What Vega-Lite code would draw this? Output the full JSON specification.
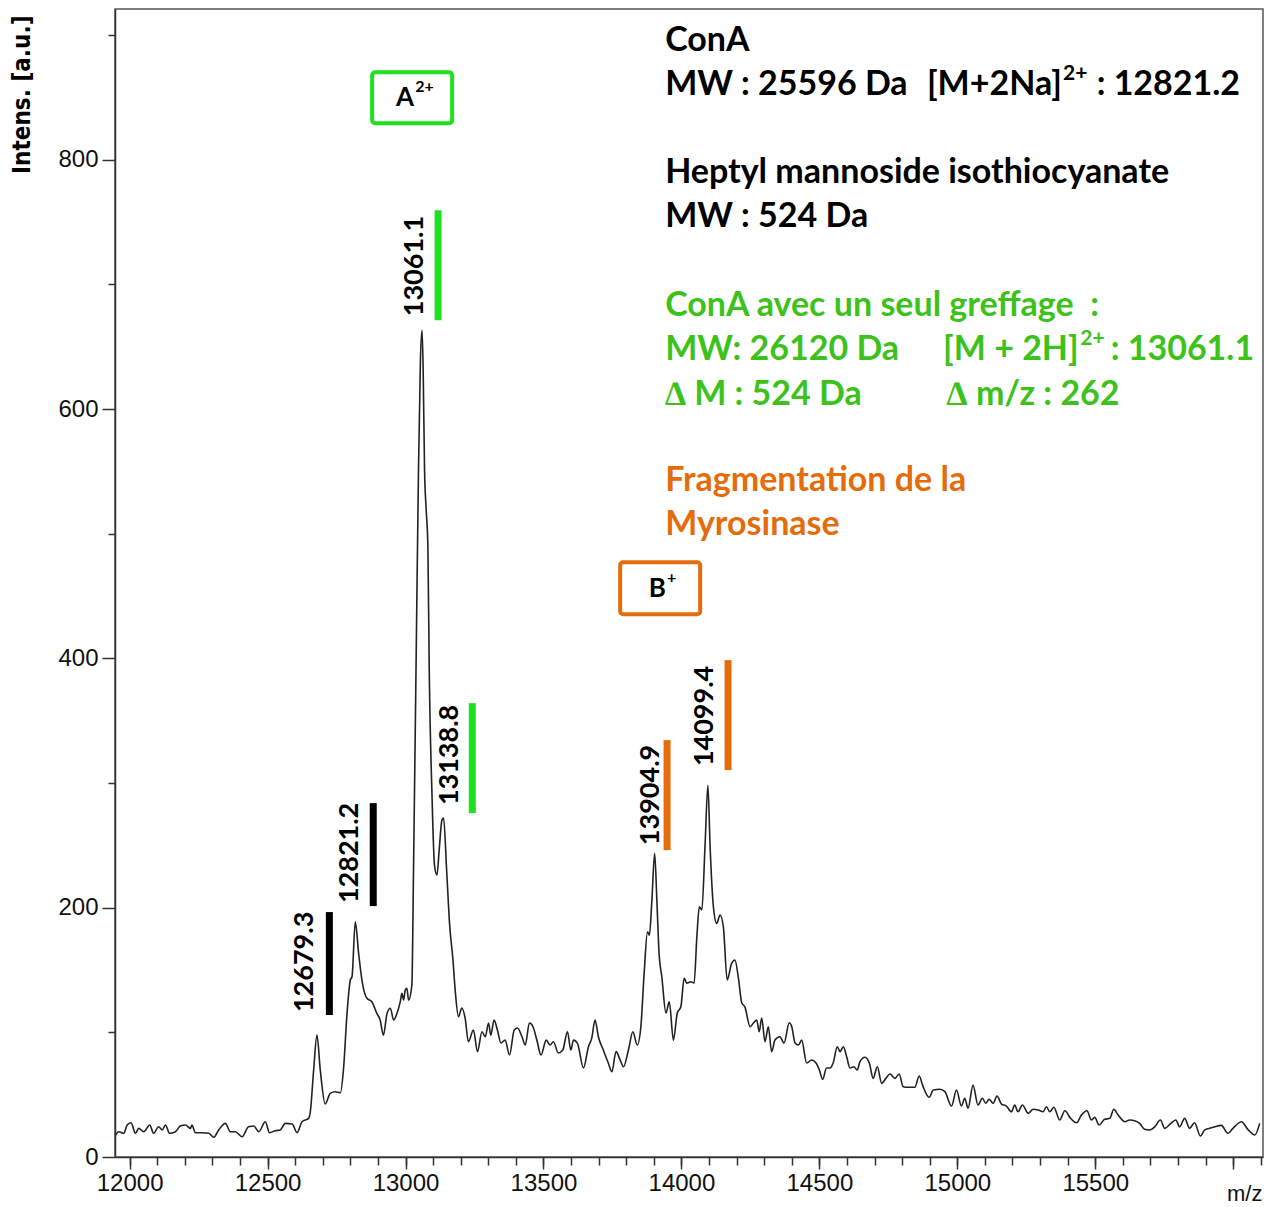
{
"$schema":"https://vega.github.io/schema/vega-lite/v6.json",
"width":1148,"height":1148,
"autosize":{"type":"none"},
"padding":{"left":115,"top":9,"right":6,"bottom":50},
"background":"white",
"config":{"view":{"stroke":"#555","strokeWidth":1.5},"axis":{"grid":false}},
"datasets":{
"spec":[
{"mz":11949,"I":17.6},{"mz":11960,"I":20.3},{"mz":11979,"I":19.0},{"mz":11991,"I":25.7},{"mz":12005,"I":27.5},{"mz":12021,"I":19.0},{"mz":12033,"I":23.0},{"mz":12051,"I":20.3},{"mz":12073,"I":25.7},{"mz":12087,"I":19.0},{"mz":12105,"I":24.3},{"mz":12118,"I":21.7},{"mz":12130,"I":25.7},{"mz":12145,"I":19.0},{"mz":12166,"I":20.3},{"mz":12184,"I":24.9},{"mz":12202,"I":25.7},{"mz":12220,"I":23.0},{"mz":12226,"I":25.7},{"mz":12238,"I":19.5},{"mz":12263,"I":19.5},{"mz":12287,"I":19.0},{"mz":12305,"I":15.8},{"mz":12323,"I":21.7},{"mz":12347,"I":27.0},{"mz":12365,"I":20.3},{"mz":12383,"I":20.3},{"mz":12408,"I":16.3},{"mz":12431,"I":24.3},{"mz":12450,"I":24.9},{"mz":12468,"I":20.3},{"mz":12492,"I":28.3},{"mz":12507,"I":19.5},{"mz":12528,"I":21.1},{"mz":12546,"I":21.7},{"mz":12564,"I":27.0},{"mz":12589,"I":26.5},{"mz":12607,"I":19.5},{"mz":12625,"I":28.3},{"mz":12649,"I":31.0},{"mz":12655,"I":36.3},{"mz":12667,"I":69.8},{"mz":12679,"I":97.8},{"mz":12691,"I":69.8},{"mz":12709,"I":42.5},{"mz":12727,"I":51.1},{"mz":12745,"I":52.4},{"mz":12764,"I":51.6},{"mz":12775,"I":69.8},{"mz":12788,"I":115.2},{"mz":12800,"I":142.0},{"mz":12806,"I":144.6},{"mz":12818,"I":188.7},{"mz":12830,"I":163.4},{"mz":12842,"I":142.0},{"mz":12860,"I":127.3},{"mz":12878,"I":124.6},{"mz":12896,"I":115.2},{"mz":12908,"I":109.9},{"mz":12920,"I":97.8},{"mz":12933,"I":115.2},{"mz":12945,"I":119.3},{"mz":12957,"I":109.9},{"mz":12969,"I":115.2},{"mz":12981,"I":124.6},{"mz":12987,"I":131.3},{"mz":12993,"I":125.9},{"mz":12999,"I":133.9},{"mz":13005,"I":135.3},{"mz":13011,"I":125.9},{"mz":13023,"I":137.9},{"mz":13029,"I":230.2},{"mz":13038,"I":390.6},{"mz":13047,"I":551.0},{"mz":13054,"I":639.2},{"mz":13060,"I":663.3},{"mz":13064,"I":631.2},{"mz":13069,"I":551.0},{"mz":13075,"I":518.9},{"mz":13081,"I":490.8},{"mz":13086,"I":390.6},{"mz":13096,"I":290.3},{"mz":13105,"I":234.2},{"mz":13114,"I":226.2},{"mz":13122,"I":246.2},{"mz":13132,"I":270.3},{"mz":13138,"I":271.9},{"mz":13149,"I":230.2},{"mz":13160,"I":186.1},{"mz":13172,"I":158.0},{"mz":13180,"I":133.9},{"mz":13192,"I":112.5},{"mz":13204,"I":119.5},{"mz":13216,"I":111.5},{"mz":13228,"I":92.5},{"mz":13246,"I":101.9},{"mz":13261,"I":84.5},{"mz":13277,"I":100.5},{"mz":13289,"I":96.5},{"mz":13301,"I":107.5},{"mz":13309,"I":97.8},{"mz":13321,"I":109.9},{"mz":13333,"I":101.9},{"mz":13346,"I":91.4},{"mz":13361,"I":93.8},{"mz":13377,"I":81.8},{"mz":13394,"I":101.9},{"mz":13406,"I":103.5},{"mz":13422,"I":96.5},{"mz":13434,"I":89.8},{"mz":13449,"I":107.5},{"mz":13462,"I":104.5},{"mz":13476,"I":93.8},{"mz":13491,"I":81.8},{"mz":13510,"I":93.8},{"mz":13524,"I":89.8},{"mz":13536,"I":92.5},{"mz":13554,"I":83.4},{"mz":13570,"I":85.8},{"mz":13587,"I":100.5},{"mz":13599,"I":85.8},{"mz":13609,"I":93.8},{"mz":13623,"I":91.4},{"mz":13645,"I":71.4},{"mz":13663,"I":88.5},{"mz":13675,"I":95.4},{"mz":13687,"I":109.9},{"mz":13699,"I":96.5},{"mz":13717,"I":85.8},{"mz":13735,"I":75.4},{"mz":13748,"I":68.4},{"mz":13763,"I":84.5},{"mz":13778,"I":77.8},{"mz":13790,"I":72.4},{"mz":13808,"I":85.8},{"mz":13824,"I":100.5},{"mz":13840,"I":89.8},{"mz":13853,"I":104.5},{"mz":13865,"I":147.6},{"mz":13877,"I":180.7},{"mz":13884,"I":178.0},{"mz":13893,"I":206.1},{"mz":13903,"I":243.6},{"mz":13911,"I":206.1},{"mz":13919,"I":163.6},{"mz":13929,"I":144.6},{"mz":13944,"I":115.5},{"mz":13956,"I":124.6},{"mz":13971,"I":93.8},{"mz":13985,"I":115.5},{"mz":13998,"I":120.5},{"mz":14010,"I":143.6},{"mz":14019,"I":139.5},{"mz":14034,"I":140.6},{"mz":14046,"I":139.5},{"mz":14056,"I":176.7},{"mz":14065,"I":200.7},{"mz":14074,"I":198.1},{"mz":14086,"I":251.8},{"mz":14096,"I":298.3},{"mz":14104,"I":248.9},{"mz":14116,"I":200.7},{"mz":14128,"I":187.4},{"mz":14140,"I":194.1},{"mz":14152,"I":184.7},{"mz":14166,"I":142.0},{"mz":14182,"I":155.3},{"mz":14194,"I":158.0},{"mz":14206,"I":144.6},{"mz":14219,"I":123.5},{"mz":14230,"I":120.5},{"mz":14249,"I":104.5},{"mz":14261,"I":107.5},{"mz":14273,"I":109.9},{"mz":14282,"I":100.5},{"mz":14291,"I":111.5},{"mz":14303,"I":92.5},{"mz":14315,"I":104.5},{"mz":14327,"I":84.5},{"mz":14339,"I":93.8},{"mz":14357,"I":96.5},{"mz":14372,"I":91.4},{"mz":14391,"I":107.7},{"mz":14400,"I":104.5},{"mz":14412,"I":91.4},{"mz":14424,"I":89.8},{"mz":14436,"I":93.8},{"mz":14454,"I":75.4},{"mz":14472,"I":77.8},{"mz":14488,"I":75.4},{"mz":14500,"I":69.8},{"mz":14512,"I":62.3},{"mz":14526,"I":71.4},{"mz":14538,"I":71.4},{"mz":14550,"I":75.4},{"mz":14565,"I":88.5},{"mz":14575,"I":84.5},{"mz":14587,"I":88.5},{"mz":14599,"I":80.4},{"mz":14611,"I":71.4},{"mz":14625,"I":72.4},{"mz":14637,"I":69.8},{"mz":14647,"I":76.4},{"mz":14665,"I":80.0},{"mz":14681,"I":75.4},{"mz":14695,"I":63.1},{"mz":14710,"I":72.4},{"mz":14726,"I":59.1},{"mz":14741,"I":63.1},{"mz":14756,"I":66.6},{"mz":14774,"I":63.1},{"mz":14789,"I":66.6},{"mz":14804,"I":56.4},{"mz":14822,"I":55.9},{"mz":14846,"I":55.9},{"mz":14862,"I":65.0},{"mz":14874,"I":57.7},{"mz":14898,"I":47.9},{"mz":14913,"I":53.7},{"mz":14937,"I":54.3},{"mz":14955,"I":52.4},{"mz":14979,"I":40.9},{"mz":14997,"I":53.7},{"mz":15015,"I":40.9},{"mz":15027,"I":47.1},{"mz":15039,"I":39.1},{"mz":15057,"I":57.7},{"mz":15075,"I":41.7},{"mz":15091,"I":47.1},{"mz":15103,"I":43.1},{"mz":15115,"I":46.3},{"mz":15130,"I":43.1},{"mz":15144,"I":48.9},{"mz":15160,"I":42.5},{"mz":15178,"I":40.9},{"mz":15196,"I":36.3},{"mz":15208,"I":41.7},{"mz":15220,"I":36.3},{"mz":15236,"I":41.7},{"mz":15257,"I":35.0},{"mz":15275,"I":38.3},{"mz":15293,"I":37.7},{"mz":15311,"I":36.3},{"mz":15323,"I":40.3},{"mz":15335,"I":36.3},{"mz":15350,"I":39.9},{"mz":15371,"I":29.7},{"mz":15390,"I":37.1},{"mz":15408,"I":31.8},{"mz":15432,"I":27.5},{"mz":15450,"I":33.7},{"mz":15470,"I":37.1},{"mz":15486,"I":29.7},{"mz":15498,"I":31.8},{"mz":15514,"I":25.7},{"mz":15534,"I":30.2},{"mz":15553,"I":31.0},{"mz":15567,"I":38.3},{"mz":15583,"I":33.7},{"mz":15607,"I":28.3},{"mz":15625,"I":29.7},{"mz":15643,"I":29.1},{"mz":15661,"I":27.0},{"mz":15679,"I":22.2},{"mz":15697,"I":21.7},{"mz":15716,"I":24.3},{"mz":15736,"I":29.7},{"mz":15752,"I":23.0},{"mz":15772,"I":26.5},{"mz":15792,"I":29.7},{"mz":15806,"I":24.3},{"mz":15824,"I":31.0},{"mz":15842,"I":23.0},{"mz":15860,"I":27.5},{"mz":15881,"I":16.8},{"mz":15897,"I":21.7},{"mz":15915,"I":23.0},{"mz":15933,"I":24.3},{"mz":15957,"I":25.4},{"mz":15981,"I":19.0},{"mz":15999,"I":23.0},{"mz":16030,"I":28.3},{"mz":16053,"I":22.2},{"mz":16078,"I":17.6},{"mz":16096,"I":27.0}
],
"bars":[
{"mz":12724,"lo":113.9,"hi":196.5,"c":"k"},
{"mz":12883,"lo":201.3,"hi":283.9,"c":"k"},
{"mz":13118,"lo":671.3,"hi":759.5,"c":"g"},
{"mz":13242,"lo":275.9,"hi":364.1,"c":"g"},
{"mz":13948,"lo":246.2,"hi":334.4,"c":"o"},
{"mz":14169,"lo":310.4,"hi":398.6,"c":"o"}
],
"peaks":[
{"mz":12637,"I":116.3,"t":"12679.3"},
{"mz":12800,"I":203.7,"t":"12821.2"},
{"mz":13035,"I":674.5,"t":"13061.1"},
{"mz":13160,"I":282.3,"t":"13138.8"},
{"mz":13890,"I":250.2,"t":"13904.9"},
{"mz":14086,"I":313.6,"t":"14099.4"}
],
"info":[
{"mz":13941,"I":895,"t":"ConA","c":"k"},
{"mz":13941,"I":859.7,"t":"MW : 25596 Da","c":"k"},
{"mz":15505,"I":859.7,"t":": 12821.2","c":"k"},
{"mz":13941,"I":789.2,"t":"Heptyl mannoside isothiocyanate","c":"k"},
{"mz":13941,"I":753.9,"t":"MW : 524 Da","c":"k"},
{"mz":13941,"I":682.5,"t":"ConA avec un seul greffage \u00a0:","c":"gt"},
{"mz":13941,"I":647.2,"t":"MW: 26120 Da","c":"gt"},
{"mz":15556,"I":647.2,"t":": 13061.1","c":"gt"},
{"mz":13941,"I":611.1,"t":"∆ M : 524 Da","c":"gt"},
{"mz":14962,"I":611.1,"t":"∆ m/z : 262","c":"gt"},
{"mz":13941,"I":542.1,"t":"Fragmentation de la","c":"o"},
{"mz":13941,"I":506.9,"t":"Myrosinase","c":"o"}
],
"infoR":[
{"mz":15379,"I":859.7,"t":"[M+2Na]","c":"k"},
{"mz":15440,"I":647.2,"t":"[M + 2H]","c":"gt"}
],
"infoSup":[
{"mz":15383,"I":869,"t":"2+","c":"k"},
{"mz":15446,"I":656.5,"t":"2+","c":"gt"}
],
"boxes":[
{"x1":12879,"x2":13169,"y1":829.3,"y2":870.2,"c":"g"},
{"x1":13778,"x2":14068,"y1":435.5,"y2":477.2,"c":"o"}
],
"boxMain":[
{"mz":13031,"I":849.7,"t":"A"},
{"mz":13944,"I":456,"t":"B"}
],
"boxSup":[
{"mz":13035,"I":858.5,"t":"2+"},
{"mz":13948,"I":464.5,"t":"+"}
]
},
"resolve":{"axis":{"x":"independent","y":"independent"}},
"layer":[
{"data":{"name":"spec"},
 "mark":{"type":"line","color":"#222222","strokeWidth":1.6,"interpolate":"monotone"},
 "encoding":{
  "x":{"field":"mz","type":"quantitative","scale":{"domain":[11947,16108],"nice":false,"zero":false},
   "axis":{"orient":"bottom","values":[12000,12500,13000,13500,14000,14500,15000,15500,16000],"format":"d","labelExpr":"datum.value < 16000 ? datum.label : ''","tickSize":12,"tickColor":"#333","tickWidth":1.5,"domainColor":"#333","domainWidth":1.5,"labelFont":"Liberation Sans","labelFontSize":24,"labelColor":"#111","labelPadding":2,"labelFlush":false,"labelOverlap":false,"title":"m/z","titleFont":"Liberation Sans","titleFontSize":22,"titleFontWeight":"normal","titleColor":"#111","titleAlign":"right","titleX":1147,"titleY":43,"titleBaseline":"alphabetic"}},
  "y":{"field":"I","type":"quantitative","scale":{"domain":[0,921],"nice":false},
   "axis":{"orient":"left","values":[0,200,400,600,800],"format":"d","tickSize":13,"tickColor":"#333","tickWidth":1.5,"domainColor":"#333","domainWidth":1.5,"labelFont":"Liberation Sans","labelFontSize":24,"labelColor":"#111","labelPadding":4,"title":"Intens. [a.u.]","titleFont":"Liberation Sans Narrow, DejaVu Sans Condensed, sans-serif","titleFontSize":24,"titleFontWeight":"bold","titleColor":"#000","titleAngle":270,"titleAlign":"right","titleBaseline":"middle","titleX":-93,"titleY":6}}
 }},
{"data":{"name":"bars"},
 "mark":{"type":"rule","strokeWidth":7,"strokeCap":"butt"},
 "encoding":{
  "x":{"field":"mz","type":"quantitative","scale":{"domain":[11947,16108],"nice":false,"zero":false},
   "axis":{"orient":"bottom","values":[12000,12100,12200,12300,12400,12500,12600,12700,12800,12900,13000,13100,13200,13300,13400,13500,13600,13700,13800,13900,14000,14100,14200,14300,14400,14500,14600,14700,14800,14900,15000,15100,15200,15300,15400,15500,15600,15700,15800,15900,16000,16100],"labels":false,"domain":false,"tickSize":8,"tickColor":"#333","tickWidth":1.5,"title":null}},
  "y":{"field":"lo","type":"quantitative","scale":{"domain":[0,921],"nice":false},
   "axis":{"orient":"left","values":[100,300,500,700,900],"labels":false,"domain":false,"tickSize":7,"tickColor":"#333","tickWidth":1.5,"title":null}},
  "y2":{"field":"hi"},
  "color":{"field":"c","type":"nominal","scale":{"domain":["k","g","gt","o"],"range":["#000000","#1EE01E","#3DC21B","#E46C0A"]},"legend":null}
 }},
{"data":{"name":"peaks"},
 "mark":{"type":"text","angle":270,"align":"left","baseline":"middle","font":"Lato","fontWeight":"bold","fontSize":27,"color":"#000"},
 "encoding":{
  "x":{"field":"mz","type":"quantitative","axis":null},
  "y":{"field":"I","type":"quantitative","axis":null},
  "text":{"field":"t"}
 }},
{"data":{"name":"info"},
 "mark":{"type":"text","align":"left","baseline":"middle","font":"Lato","fontWeight":"bold","fontSize":34},
 "encoding":{
  "x":{"field":"mz","type":"quantitative","axis":null},
  "y":{"field":"I","type":"quantitative","axis":null},
  "text":{"field":"t"},
  "color":{"field":"c","type":"nominal","scale":{"domain":["k","g","gt","o"],"range":["#000000","#1EE01E","#3DC21B","#E46C0A"]},"legend":null}
 }},
{"data":{"name":"infoR"},
 "mark":{"type":"text","align":"right","baseline":"middle","font":"Lato","fontWeight":"bold","fontSize":34},
 "encoding":{
  "x":{"field":"mz","type":"quantitative","axis":null},
  "y":{"field":"I","type":"quantitative","axis":null},
  "text":{"field":"t"},
  "color":{"field":"c","type":"nominal","scale":{"domain":["k","g","gt","o"],"range":["#000000","#1EE01E","#3DC21B","#E46C0A"]},"legend":null}
 }},
{"data":{"name":"infoSup"},
 "mark":{"type":"text","align":"left","baseline":"middle","font":"Lato","fontWeight":"bold","fontSize":21},
 "encoding":{
  "x":{"field":"mz","type":"quantitative","axis":null},
  "y":{"field":"I","type":"quantitative","axis":null},
  "text":{"field":"t"},
  "color":{"field":"c","type":"nominal","scale":{"domain":["k","g","gt","o"],"range":["#000000","#1EE01E","#3DC21B","#E46C0A"]},"legend":null}
 }},
{"data":{"name":"boxes"},
 "mark":{"type":"rect","filled":false,"strokeWidth":4,"cornerRadius":3},
 "encoding":{
  "x":{"field":"x1","type":"quantitative","axis":null},
  "x2":{"field":"x2"},
  "y":{"field":"y1","type":"quantitative","axis":null},
  "y2":{"field":"y2"},
  "color":{"field":"c","type":"nominal","scale":{"domain":["k","g","gt","o"],"range":["#000000","#1EE01E","#3DC21B","#E46C0A"]},"legend":null}
 }},
{"data":{"name":"boxMain"},
 "mark":{"type":"text","align":"right","baseline":"middle","font":"Lato","fontWeight":"bold","fontSize":26,"color":"#000"},
 "encoding":{
  "x":{"field":"mz","type":"quantitative","axis":null},
  "y":{"field":"I","type":"quantitative","axis":null},
  "text":{"field":"t"}
 }},
{"data":{"name":"boxSup"},
 "mark":{"type":"text","align":"left","baseline":"middle","font":"Lato","fontWeight":"bold","fontSize":16,"color":"#000"},
 "encoding":{
  "x":{"field":"mz","type":"quantitative","axis":null},
  "y":{"field":"I","type":"quantitative","axis":null},
  "text":{"field":"t"}
 }}
]
}
